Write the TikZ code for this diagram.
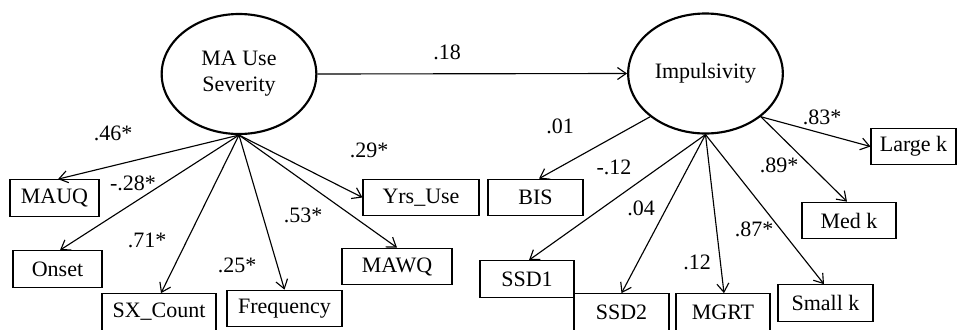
\documentclass[tikz,border=0pt]{standalone}
\usepackage{fontspec}
\setmainfont{Liberation Serif}
\usetikzlibrary{arrows.meta,calc,shapes.geometric}
\begin{document}
\begin{tikzpicture}[x=0.75pt,y=-0.75pt,
  every node/.style={font=\fontsize{16.5}{19.5}\selectfont},
  obs/.style={draw, line width=0.8pt, inner sep=0pt, minimum height=27.5pt},
  lat/.style={draw, ellipse, line width=1.6pt, minimum width=116pt, minimum height=90pt, inner sep=0pt, align=center},
  arr/.style={-{Straight Barb[length=6.5pt,width=9pt]}, line width=0.85pt},
  coef/.style={inner sep=0pt}]
\useasboundingbox (0,0) rectangle (957,329);
\clip (0,0) rectangle (957,329);
% latent variables
\node[lat] (MA) at (239,74) {MA Use\\Severity};
\node[lat] (IMP) at (705.5,73.5) {Impulsivity};
% observed indicators (left)
\node[obs, minimum width=66.75pt] (MAUQ) at (54.5,198) {MAUQ};
\node[obs, minimum width=66.75pt] (Onset) at (57.5,269) {Onset};
\node[obs, minimum width=85.5pt] (SX) at (159,312) {SX\_Count};
\node[obs, minimum width=86.25pt] (Freq) at (284.5,308.5) {Frequency};
\node[obs, minimum width=82.5pt] (MAWQ) at (397,266.5) {MAWQ};
\node[obs, minimum width=87pt] (Yrs) at (421,197.5) {Yrs\_Use};
% observed indicators (right)
\node[obs, minimum width=71.25pt] (BIS) at (535.5,197.5) {BIS};
\node[obs, minimum width=70.5pt] (SSD1) at (527,279) {SSD1};
\node[obs, minimum width=71.25pt] (SSD2) at (621.5,312) {SSD2};
\node[obs, minimum width=70.5pt] (MGRT) at (723,312) {MGRT};
\node[obs, minimum width=71.25pt] (Small) at (825.5,303) {Small k};
\node[obs, minimum width=70.5pt] (Med) at (849,220.5) {Med k};
\node[obs, minimum width=63.75pt] (Large) at (913.5,146.5) {Large k};
% structural path
\draw[arr] (MA.east) -- (IMP.west);
\node[coef] (c18) at (447,52) {.18};
% loadings left
\draw[arr] (MA.south) -- ($(MAUQ.north)+(3.5,0)$);
\draw[arr] (MA.south) -- ($(Onset.north)+(2.5,0)$);
\draw[arr] (MA.south) -- ($(SX.north)+(2,0)$);
\draw[arr] (MA.south) -- (Freq.north);
\draw[arr] (MA.south) -- (MAWQ.north);
\draw[arr] (MA.south) -- (Yrs.west);
\node[coef] (c46) at (113,133) {.46*};
\node[coef] (c28) at (133,183) {-.28*};
\node[coef] (c71) at (147,240) {.71*};
\node[coef] (c25) at (237,265) {.25*};
\node[coef] (c53) at (303,215) {.53*};
\node[coef] (c29) at (369,150) {.29*};
% loadings right
\draw[arr] (IMP.218) -- ($(BIS.north)+(3.5,0)$);
\draw[arr] (IMP.south) -- ($(SSD1.north)+(2,0)$);
\draw[arr] (IMP.south) -- (SSD2.north);
\draw[arr] (IMP.south) -- ($(MGRT.north)+(1,0)$);
\draw[arr] (IMP.south) -- ($(Small.north)+(-1.5,0)$);
\draw[arr] (IMP.322) -- ($(Med.north)+(-2,0)$);
\draw[arr] (IMP.322) -- (Large.west);
\node[coef] (c01) at (560,126) {.01};
\node[coef] (c12a) at (614,167) {-.12};
\node[coef] (c04) at (641,208) {.04};
\node[coef] (c12b) at (697,262) {.12};
\node[coef] (c87) at (754,229) {.87*};
\node[coef] (c89) at (779,165) {.89*};
\node[coef] (c83) at (822,117) {.83*};
\end{tikzpicture}
\end{document}
